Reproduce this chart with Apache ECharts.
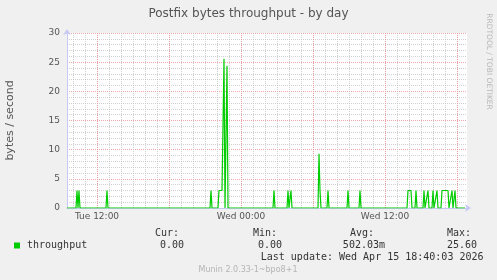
<!DOCTYPE html>
<html><head><meta charset="utf-8">
<script src="https://cdn.jsdelivr.net/npm/echarts@6/dist/echarts.min.js"></script>
<style>html,body{margin:0;padding:0;background:#f0f0f0}#c{width:497px;height:280px}</style>
</head><body><div id="c"></div><script>
// ---- data ----
const titleText = 'Postfix bytes throughput - by day';
const yAxisName = 'bytes / second';
const seriesName = 'throughput';
// sample times (day + HH:MM) and values
const sampleTimes = [
  'Tue 09:30','Tue 10:15','Tue 10:20','Tue 10:25','Tue 10:30','Tue 10:35',
  'Tue 12:45','Tue 12:50','Tue 12:55',
  'Tue 21:25','Tue 21:30','Tue 21:35',
  'Tue 22:05','Tue 22:10','Tue 22:15','Tue 22:20','Tue 22:25','Tue 22:30','Tue 22:35','Tue 22:40','Tue 22:45','Tue 22:50','Tue 22:55',
  'Wed 02:40','Wed 02:45','Wed 02:50',
  'Wed 03:50','Wed 03:55','Wed 04:00','Wed 04:05','Wed 04:10','Wed 04:15',
  'Wed 06:25','Wed 06:30','Wed 06:35','Wed 06:40',
  'Wed 07:10','Wed 07:15','Wed 07:20',
  'Wed 08:50','Wed 08:55','Wed 09:00',
  'Wed 09:50','Wed 09:55','Wed 10:00',
  'Wed 13:50','Wed 13:55','Wed 14:00','Wed 14:05','Wed 14:10','Wed 14:15',
  'Wed 14:30','Wed 14:35','Wed 14:40',
  'Wed 15:10','Wed 15:15','Wed 15:20',
  'Wed 15:30','Wed 15:35','Wed 15:40',
  'Wed 15:55','Wed 16:00','Wed 16:05',
  'Wed 16:15','Wed 16:20','Wed 16:25',
  'Wed 16:40','Wed 16:45','Wed 16:50','Wed 16:55','Wed 17:00','Wed 17:05','Wed 17:10','Wed 17:15','Wed 17:20',
  'Wed 17:30','Wed 17:35','Wed 17:40',
  'Wed 17:45','Wed 17:50','Wed 17:55',
  'Wed 18:40'
];
const sampleValues = [
  0, 0, 3.0, 0, 3.0, 0,
  0, 3.0, 0,
  0, 3.0, 0,
  0, 3.0, 3.0, 3.0, 3.0, 3.0, 25.6, 0, 0, 24.4, 0,
  0, 3.0, 0,
  0, 3.0, 0, 0, 3.0, 0,
  0, 9.3, 3.0, 0,
  0, 3.0, 0,
  0, 3.0, 0,
  0, 3.0, 0,
  0, 3.0, 3.0, 3.0, 3.0, 0,
  0, 3.0, 0,
  0, 3.0, 0,
  0, 3.0, 0,
  0, 3.0, 0,
  0, 3.0, 0,
  0, 3.0, 3.0, 3.0, 3.0, 3.0, 3.0, 3.0, 0,
  0, 3.0, 0,
  0, 3.0, 0,
  0
];
const xTickHours = [12, 24, 36];
const xTickLabels = ['Tue 12:00', 'Wed 00:00', 'Wed 12:00'];
const xMajorGridHours = [12, 18, 24, 30, 36, 42];
const xMinorGridHours = [10,11,12,13,14,15,16,17,18,19,20,21,22,23,24,25,26,27,28,29,30,31,32,33,34,35,36,37,38,39,40,41,42];
const xStartTime = 'Tue 09:30';
const xEndTime = 'Wed 18:50';
const yMin = 0, yMax = 30, yStep = 5;
const statHeaders = ['Cur:', 'Min:', 'Avg:', 'Max:'];
const statValues = ['0.00', '0.00', '502.03m', '25.60'];
const lastUpdateText = 'Last update: Wed Apr 15 18:40:03 2026';
const footerText = 'Munin 2.0.33-1~bpo8+1';
const watermarkText = 'RRDTOOL / TOBI OETIKER';

// ---- helpers ----
const dayOffset = { Tue: 0, Wed: 24 };
function toHours(s) {
  const [d, hm] = s.split(' ');
  const [h, m] = hm.split(':').map(Number);
  return dayOffset[d] + h + m / 60;
}
const seriesData = sampleTimes.map((t, i) => [toHours(t), sampleValues[i]]);
const xMin = toHours(xStartTime), xMax = toHours(xEndTime);

const SANS = '"DejaVu Sans"';
const MONO = '"DejaVu Sans Mono"';
const axisCol = '#c8c8f4';
const redGrid = 'rgba(235,140,140,0.75)';
const grayGrid = 'rgba(190,190,190,0.7)';

const chart = echarts.init(document.getElementById('c'), null, { renderer: 'canvas' });

const statX = [155, 253, 350, 447];
const valRight = [184, 282, 385, 477];

const graphics = [];
statHeaders.forEach((h, i) => graphics.push({
  type: 'text', x: statX[i], y: 233.5,
  style: { text: h, font: '10px ' + MONO, fill: '#333', textAlign: 'left', textVerticalAlign: 'middle', align: 'left', verticalAlign: 'middle' }
}));
statValues.forEach((v, i) => graphics.push({
  type: 'text', x: valRight[i], y: 245.7,
  style: { text: v, font: '10px ' + MONO, fill: '#333', textAlign: 'right', textVerticalAlign: 'middle', align: 'right', verticalAlign: 'middle' }
}));
graphics.push({
  type: 'text', x: 483.5, y: 257.5,
  style: { text: lastUpdateText, font: '10px ' + MONO, fill: '#333', textAlign: 'right', textVerticalAlign: 'middle', align: 'right', verticalAlign: 'middle' }
});
graphics.push({
  type: 'text', x: 248, y: 269.5,
  style: { text: footerText, font: '8px ' + SANS, fill: '#b4b4b4', textAlign: 'center', textVerticalAlign: 'middle', align: 'center', verticalAlign: 'middle' }
});
graphics.push({
  type: 'text', x: 488.5, y: 61.5, rotation: -Math.PI / 2,
  style: { text: watermarkText, font: '7.5px ' + SANS, fill: '#b8b8b8', textAlign: 'center', textVerticalAlign: 'middle', align: 'center', verticalAlign: 'middle' }
});

chart.setOption({
  animation: false,
  backgroundColor: '#f0f0f0',
  title: {
    text: titleText, left: 'center', top: 7, padding: 0,
    textStyle: { fontFamily: SANS, fontSize: 12, fontWeight: 'normal', color: '#555', lineHeight: 14 }
  },
  legend: {
    data: [seriesName], left: 14, top: 238.5, padding: 0,
    icon: 'rect', itemWidth: 6, itemHeight: 6,
    textStyle: { fontFamily: MONO, fontSize: 10, color: '#333', lineHeight: 14, padding: [0, 0, 0, 2] }
  },
  grid: {
    left: 67, width: 400, top: 33, height: 175,
    containLabel: false, outerBoundsMode: 'none',
    show: true, backgroundColor: '#ffffff', borderWidth: 0
  },
  xAxis: [
    {
      type: 'value', min: xMin, max: xMax, position: 'bottom',
      axisLine: { show: false }, axisLabel: { show: false },
      axisTick: { show: false, customValues: xMinorGridHours },
      splitLine: { show: true, lineStyle: { color: grayGrid, width: 1, type: [1, 1] } }
    },
    {
      type: 'value', min: xMin, max: xMax, position: 'bottom', offset: 0,
      axisLine: { show: true, onZero: false, lineStyle: { color: axisCol, width: 1 }, symbol: ['none', 'arrow'], symbolSize: [6, 6], symbolOffset: [0, 4] },
      axisTick: { show: false, customValues: xMajorGridHours },
      axisLabel: {
        show: true, customValues: xTickHours, margin: 4,
        fontFamily: SANS, fontSize: 9, color: '#555',
        formatter: v => { const i = xTickHours.findIndex(h => Math.abs(h - v) < 1e-6); return i >= 0 ? xTickLabels[i] : ''; }
      },
      splitLine: { show: true, lineStyle: { color: redGrid, width: 1, type: [1, 1] } }
    }
  ],
  yAxis: {
    type: 'value', min: yMin, max: yMax, interval: yStep,
    name: yAxisName, nameLocation: 'middle', nameGap: 51, nameRotate: 90,
    nameTextStyle: { fontFamily: SANS, fontSize: 11, color: '#555' },
    axisLine: { show: true, onZero: false, lineStyle: { color: axisCol, width: 1 }, symbol: ['none', 'arrow'], symbolSize: [6, 6], symbolOffset: [0, 4] },
    axisTick: { show: false },
    axisLabel: { fontFamily: SANS, fontSize: 9, color: '#555', margin: 7 },
    splitLine: { show: true, lineStyle: { color: redGrid, width: 1, type: [1, 1] } },
    minorTick: { show: false, splitNumber: 5 },
    minorSplitLine: { show: true, lineStyle: { color: grayGrid, width: 1, type: [1, 1] } }
  },
  series: [{
    name: seriesName, type: 'line', xAxisIndex: 1,
    data: seriesData, showSymbol: false, symbol: 'none',
    color: '#00cc00', lineStyle: { color: '#00cc00', width: 1.2 },
    itemStyle: { color: '#00cc00' }, z: 5
  }],
  graphic: graphics
});
</script></body></html>
